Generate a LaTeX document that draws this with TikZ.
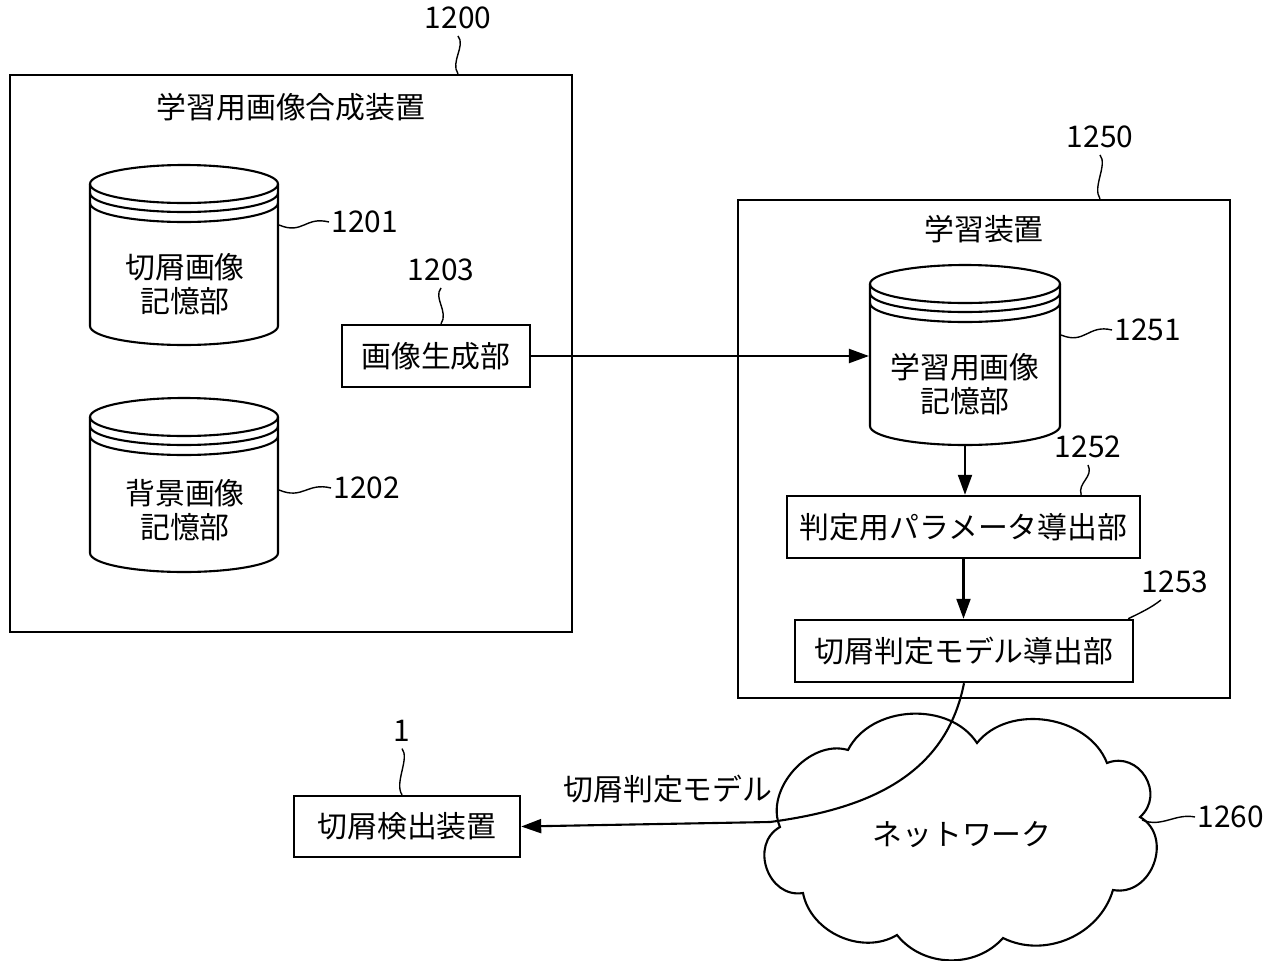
\documentclass[tikz,border=0pt]{standalone}
\usepackage{fontspec}
\setmainfont{Noto Sans CJK JP}
\usetikzlibrary{arrows.meta,calc}
\newcommand{\mycyl}[4]{%
  \pgfmathsetmacro{\cylcx}{(#1+#2)/2}%
  \pgfmathsetmacro{\cylrx}{(#2-#1)/2}%
  \draw (\cylcx,#3) ellipse [x radius=\cylrx, y radius=19];
  \draw (#1,#3+9) arc[start angle=180,end angle=0,x radius=\cylrx,y radius=19];
  \draw (#1,#3+19) arc[start angle=180,end angle=0,x radius=\cylrx,y radius=19];
  \draw (#1,#3) -- (#1,#4) arc[start angle=180,end angle=0,x radius=\cylrx,y radius=19] -- (#2,#3);
}
\begin{document}
\begin{tikzpicture}[x=0.02cm,y=-0.02cm,line width=1.2pt,
  font=\fontsize{17}{19.5}\selectfont,
  box/.style={draw,line width=1.4pt,minimum height=1.24cm,inner sep=0},
  frame/.style={draw,line width=1.4pt,inner sep=0},
  ghost/.style={inner sep=0},
  txt/.style={align=center},
  lead/.style={line width=0.8pt},
  arr/.style={-{Triangle[length=0.4cm,width=0.28cm]},line width=1.2pt}]
\useasboundingbox (0,0) rectangle (1276,961);

% ---- 1200 ----
\node[frame,minimum width=11.24cm,minimum height=11.14cm] (f1200) at (291,353.5) {};
\node (t1200) at (291,107) {学習用画像合成装置};
\node (n1200) at (458,18) {1200};
\draw[lead] (n1200.south) .. controls +(8,10) and +(-8,-12) .. (n1200 |- f1200.north);

\mycyl{90}{278}{184}{326}
\node[ghost,minimum width=3.76cm,minimum height=3.6cm] (c1201) at (184,255) {};
\node[txt] (c1201t) at (185,284) {切屑画像\\記憶部};
\node[anchor=west,inner sep=1pt] (n1201) at (329,222) {1201};
\draw[lead] (n1201.west -| c1201.east) ++(0,3) coordinate (l1201s)
  (l1201s) .. controls +(24,10) and +(-24,-6) .. (n1201.west);

\mycyl{90}{278}{417}{553}
\node[ghost,minimum width=3.76cm,minimum height=3.48cm] (c1202) at (184,485) {};
\node[txt] (c1202t) at (185,510) {背景画像\\記憶部};
\node[anchor=west,inner sep=1pt] (n1202) at (331,488) {1202};
\draw[lead] (n1202.west -| c1202.east) ++(0,2) coordinate (l1202s)
  (l1202s) .. controls +(24,10) and +(-24,-6) .. (n1202.west);

\node[box,minimum width=3.76cm] (b1203) at (436,356) {画像生成部};
\node (n1203) at (441,270) {1203};
\draw[lead] (n1203.south) .. controls +(-8,10) and +(8,-12) .. (n1203.south |- b1203.north);

% ---- 1250 ----
\node[frame,minimum width=9.84cm,minimum height=9.96cm] (f1250) at (984,449) {};
\node (t1250) at (984,229) {学習装置};
\node (n1250) at (1100,137) {1250};
\draw[lead] (n1250.south) .. controls +(8,10) and +(-8,-12) .. (n1250.south |- f1250.north);

\mycyl{870}{1060}{284}{426}
\node[ghost,minimum width=3.8cm,minimum height=3.6cm] (c1251) at (965,355) {};
\node[txt] (c1251t) at (965,384) {学習用画像\\記憶部};
\node[anchor=west,inner sep=1pt] (n1251) at (1112,330) {1251};
\draw[lead] (n1251.west -| c1251.east) ++(0,5) coordinate (l1251s)
  (l1251s) .. controls +(24,10) and +(-24,-6) .. (n1251.west);

\node[box,minimum width=7.06cm] (b1252) at (963.5,527) {判定用パラメータ導出部};
\node (n1252) at (1088,447) {1252};
\draw[lead] (n1252.south) .. controls +(6,12) and +(-4,-12) .. ($(b1252.north east)+(-60,0)$);

\node[box,minimum width=6.76cm] (b1253) at (964,651) {切屑判定モデル導出部};
\node (n1253) at (1175,582) {1253};
\draw[lead] ($(n1253.south)+(-14,0)$) .. controls +(-10,8) and +(12,-6) .. ($(b1253.north east)+(-6,0)$);

\draw[arr] (b1203.east) -- (c1251.west |- b1203.east);
\draw[arr] (c1251.south) -- (c1251.south |- b1252.north);
\draw[arr] (b1252.south) -- (b1252.south |- b1253.north);

% ---- detector ----
\node[box,minimum width=4.52cm,minimum height=1.22cm] (det) at (407,826.5) {切屑検出装置};
\node (n1) at (402,731) {1};
\draw[lead] (n1.south) .. controls +(8,10) and +(-8,-12) .. (n1.south |- det.north);

% ---- cloud ----
\draw (848,750) to[bend left=60] (977,743) to[bend left=60] (1107,763)
  to[bend left=80,looseness=1.4] (1140,817) to[bend left=80,looseness=1.3] (1113,890)
  to[bend left=50] (1003,938) to[bend left=50] (897,935) to[bend left=55] (803,893)
  to[bend left=80,looseness=1.3] (780,827) to[bend left=65] (848,750) -- cycle;
\node (cloud) at (962,835) {ネットワーク};
\coordinate (cloudE) at (1142,820);
\node[anchor=west,inner sep=1pt] (n1260) at (1195,817) {1260};
\draw[lead] (cloudE) .. controls +(20,8) and +(-20,-4) .. (n1260.west);

% ---- model transfer ----
\draw[arr] (b1253.south) .. controls (945,780) and (860,810) .. (770,822) -- (det.east);
\node (mlabel) at (668,789) {切屑判定モデル};
\end{tikzpicture}
\end{document}
